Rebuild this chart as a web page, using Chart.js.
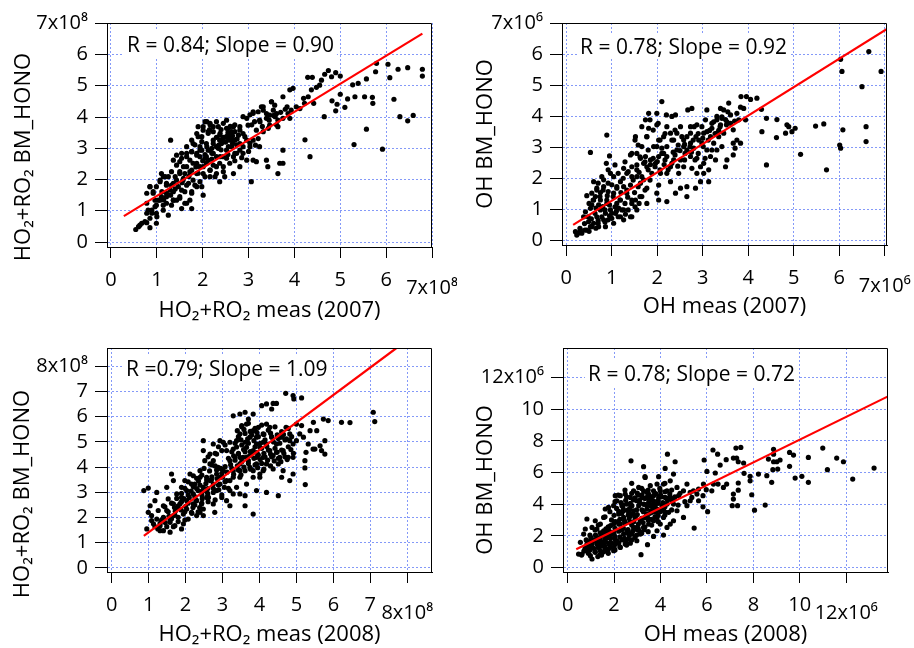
<!DOCTYPE html>
<html>
<head>
<meta charset="utf-8">
<script src="https://cdn.jsdelivr.net/npm/chart.js@4.4.1/dist/chart.umd.min.js"></script>
<style>
  html, body { margin: 0; padding: 0; background: #fff; }
  #wrap { position: relative; width: 914px; height: 648px; }
  canvas { position: absolute; }
</style>
</head>
<body>
<div id="wrap">
  <canvas id="p1" width="457" height="324" style="left:0;top:0"></canvas>
  <canvas id="p2" width="457" height="324" style="left:457px;top:0"></canvas>
  <canvas id="p3" width="457" height="324" style="left:0;top:324px"></canvas>
  <canvas id="p4" width="457" height="324" style="left:457px;top:324px"></canvas>
</div>
<script>
// HO2+RO2 2007 (units of 1e8)
const p1Points = [[6.79,5.53],[6.79,5.31],[6.47,5.58],[6.26,5.53],[6.04,5.69],[6.08,5.26],[6.17,4.57],[6.30,4.01],[6.47,3.88],[6.59,4.05],[5.92,2.97],[5.79,5.72],[5.77,5.45],[5.71,4.44],[5.70,4.63],[5.57,5.22],[5.53,4.65],[5.57,3.61],[5.39,5.08],[5.27,5.03],[5.32,4.65],[5.30,3.12],[5.16,4.58],[5.10,4.31],[5.00,4.73],[4.93,4.41],[4.90,4.20],[4.82,4.52],[4.65,4.01],[4.34,2.73],[4.23,3.27],[5.00,5.31],[4.90,5.42],[4.74,5.49],[4.81,5.29],[4.66,5.37],[4.59,5.18],[4.55,5.02],[4.48,4.95],[4.39,5.27],[4.29,5.27],[4.37,4.87],[4.30,4.65],[4.20,4.60],[4.22,4.44],[4.42,4.44],[3.97,4.92],[3.90,4.87],[3.75,4.65],[3.84,4.33],[3.93,4.22],[3.90,3.96],[3.75,3.96],[3.64,3.69],[3.75,2.94],[3.75,2.52],[3.64,2.19],[3.68,2.52],[3.50,4.49],[3.39,4.11],[3.54,4.22],[3.28,4.33],[3.32,4.22],[3.24,3.90],[3.13,3.85],[3.17,3.58],[3.21,3.31],[3.24,3.05],[3.10,2.62],[3.17,2.57],[3.39,2.62],[3.42,2.41],[3.06,1.93],[2.96,2.62],[2.88,4.01],[2.99,3.74],[2.81,3.69],[2.67,3.69],[2.70,3.53],[2.52,3.90],[2.56,3.64],[2.59,3.47],[2.52,3.37],[2.45,3.26],[2.59,3.26],[2.37,3.42],[2.41,3.15],[2.63,3.05],[2.52,2.94],[2.45,2.73],[2.34,3.00],[2.23,2.84],[2.12,2.94],[2.08,3.15],[2.05,3.85],[2.16,3.80],[2.23,3.69],[1.90,3.69],[1.87,3.47],[1.98,3.37],[1.79,3.15],[1.94,3.05],[1.76,2.89],[1.65,2.73],[1.54,2.84],[1.43,2.78],[1.36,2.62],[1.30,3.26],[1.50,2.57],[1.65,2.41],[1.79,2.52],[1.94,2.41],[2.08,2.52],[2.23,2.46],[2.37,2.52],[2.30,2.19],[2.16,2.09],[2.37,1.93],[2.48,2.09],[2.67,2.19],[2.81,2.41],[2.74,2.84],[2.88,2.84],[2.01,2.19],[1.94,1.93],[2.01,1.50],[1.87,1.77],[1.76,1.61],[1.72,1.34],[1.76,1.07],[1.61,1.24],[1.54,1.07],[1.50,1.45],[1.36,1.34],[1.32,1.18],[1.21,1.24],[1.14,1.02],[1.25,0.86],[1.07,1.34],[0.99,1.18],[0.99,0.92],[0.99,0.60],[0.89,1.02],[0.85,0.76],[0.78,0.92],[0.85,0.46],[0.78,0.62],[0.67,0.60],[0.60,0.49],[0.54,0.40],[0.78,1.56],[0.85,1.77],[0.92,1.61],[0.99,1.77],[1.07,1.93],[1.14,2.09],[1.10,2.19],[1.21,1.88],[1.25,2.09],[1.32,1.82],[1.36,1.61],[1.43,1.98],[1.50,2.19],[1.57,1.98],[1.61,2.19],[1.65,1.82],[1.54,1.66],[1.43,1.34],[1.21,1.56],[1.10,1.45],[0.96,1.34],[1.94,2.73],[2.08,2.73],[2.30,2.73],[2.16,2.30],[1.87,2.19],[1.79,1.98],[1.72,2.25],[2.59,2.52],[2.45,2.41],[2.67,2.73],[2.96,3.26],[3.10,3.26],[3.03,3.05],[2.81,3.15],[2.70,3.26],[2.59,3.42],[2.56,3.31],[2.63,3.37],[2.37,3.26],[2.23,3.15],[2.16,2.94],[2.12,2.62],[1.98,2.94],[1.87,2.84],[2.01,3.58],[2.12,3.53],[3.10,4.17],[3.46,4.06],[3.57,4.38],[4.04,4.33],[4.12,4.27],[3.86,4.11],[3.64,3.90],[3.61,4.11],[3.46,3.74],[3.32,3.53],[2.88,3.47],
  [3.32,4.33],[3.50,4.49],[3.21,4.17],[3.10,4.12],[3.03,4.07],[3.39,3.96],[3.58,4.01],[3.61,3.75],[3.25,3.85],[3.43,3.64],[3.07,3.75],[2.96,3.96],[2.38,3.48],[2.52,3.37],[2.63,3.53],[2.45,3.21],[2.67,3.26],[2.78,3.42],[2.56,3.05],[2.30,3.05],[2.23,3.26],[2.12,3.48],[2.01,3.69],[2.16,3.75],[2.09,3.85],[2.20,2.84],[2.38,2.73],[2.52,2.68],[2.70,2.84],[2.81,2.94],[2.88,3.05],[1.94,2.94],[1.83,3.11],[1.76,3.26],[1.90,3.37],[1.65,2.84],[1.72,2.62],[1.87,2.52],[2.01,2.41],[2.16,2.30],[2.30,2.41],[2.45,2.25],[2.27,2.09],[2.05,2.09],[1.90,2.20],[1.76,2.30],[1.58,2.41],[1.50,2.25],[1.40,2.09],[1.58,2.04],[1.69,1.88],[1.83,1.82],[1.98,1.77],[1.76,1.56],[1.61,1.61],[1.47,1.77],[1.36,1.88],[1.29,1.66],[1.21,1.45],[1.36,1.34],[1.50,1.40],[1.65,1.24],[1.14,1.18],[1.03,1.34],[0.96,1.13],[1.11,1.61],[1.21,1.82],[1.07,1.98],[1.18,2.09],[1.32,2.25],[1.43,2.46],[1.54,2.68],[1.65,3.05],[1.76,2.89],[1.87,2.78],[2.05,2.68],[2.09,3.05],[1.98,3.21],[2.23,3.53],[2.34,3.69],[2.52,3.64],[2.70,3.75],[2.81,3.58],[2.92,3.37],[3.03,3.16],[2.74,3.11],[0.89,0.92],[0.81,1.02],[0.78,1.24],[0.92,1.56],[0.85,1.77],[0.63,0.54],[0.74,0.65],[1.00,0.81],
  [2.40,3.60],[2.55,3.50],[2.65,3.40],[2.45,3.35],[2.30,3.35],[2.50,3.20],[2.65,3.15],[2.75,3.30],[2.35,3.10],[2.20,3.00],[2.05,2.80],[2.20,2.65],[2.00,2.60],[1.85,2.40],[1.70,2.10],[1.55,1.90],[1.40,1.70],[1.30,1.50],[1.15,1.35],[2.60,3.70],[2.45,3.80],[2.30,3.85],[2.15,3.60],[2.40,2.95],[2.55,2.80],[2.70,2.60],[2.85,2.70],[3.00,2.90],[3.15,3.10],[3.30,3.70],[3.45,3.90],[3.55,4.05],[3.70,4.15],[3.80,4.25]];
const p1Fit = [[0.28,0.83],[6.79,6.67]];

// OH 2007 (units of 1e6)
const p2Points = [[6.92,5.45],[6.65,6.09],[6.50,4.96],[6.59,3.67],[6.59,3.19],[6.08,3.57],[6.03,5.84],[6.06,5.45],[6.01,3.08],[6.03,2.98],[5.72,2.28],[5.66,3.76],[5.48,3.69],[5.15,2.78],[5.03,3.62],[4.96,3.51],[4.85,3.73],[4.89,3.67],[4.82,3.46],[4.62,3.32],[4.63,3.90],[4.40,3.94],[4.40,2.44],[4.30,3.51],[4.29,4.23],[4.19,4.59],[4.05,4.55],[3.96,4.64],[3.84,4.64],[3.90,4.26],[3.94,3.89],[3.83,4.30],[3.83,3.14],[3.75,3.24],[3.67,3.14],[3.71,2.98],[3.67,2.76],[3.61,4.05],[3.57,4.43],[3.46,4.21],[3.39,4.26],[3.42,3.94],[3.31,4.00],[3.24,3.83],[3.20,3.62],[3.39,3.73],[3.52,3.73],[3.46,3.46],[3.35,3.35],[3.24,3.14],[3.31,2.92],[3.17,2.71],[3.28,2.60],[3.50,2.38],[3.53,2.60],[3.13,2.28],[3.09,4.21],[3.06,3.89],[3.02,3.46],[2.98,3.14],[2.91,3.24],[2.87,3.73],[2.81,3.67],[2.76,4.26],[2.67,4.21],[2.73,3.46],[2.65,3.35],[2.58,3.24],[2.73,3.14],[2.65,2.92],[2.80,2.98],[2.73,2.71],[2.87,2.65],[2.95,2.38],[3.02,2.17],[2.95,1.90],[3.13,1.90],[2.84,1.69],[2.65,1.74],[2.65,1.42],[2.51,1.69],[2.58,2.38],[2.51,2.60],[2.43,2.92],[2.36,3.24],[2.29,3.46],[2.40,4.05],[2.32,4.00],[2.20,4.05],[2.21,3.67],[2.10,4.48],[1.99,4.10],[1.99,3.73],[2.14,3.35],[2.03,3.24],[2.10,2.98],[2.14,2.81],[2.03,2.71],[2.21,2.71],[2.29,2.38],[2.21,2.17],[2.29,1.90],[2.40,1.53],[2.21,1.26],[2.03,1.31],[1.99,1.53],[2.03,1.79],[1.88,2.17],[1.81,4.10],[1.74,3.89],[1.81,3.62],[1.77,3.35],[1.58,3.08],[1.55,2.81],[1.74,2.71],[1.70,2.49],[1.77,2.38],[1.85,2.60],[1.55,2.44],[1.44,2.38],[1.33,2.17],[1.26,2.33],[1.52,3.35],[1.44,2.06],[1.55,2.06],[1.63,1.85],[1.70,1.96],[1.77,1.69],[1.77,1.20],[1.66,1.42],[1.55,0.99],[1.44,1.20],[1.33,1.53],[1.41,1.79],[1.26,1.74],[1.19,1.90],[1.11,1.74],[1.04,2.06],[1.19,1.31],[1.11,1.20],[1.04,1.53],[1.26,0.99],[1.19,0.77],[1.08,0.88],[1.00,0.72],[0.97,0.99],[0.89,1.20],[0.86,0.88],[0.82,0.67],[0.75,0.99],[0.67,0.77],[0.60,0.56],[0.53,0.45],[0.45,0.34],[0.34,0.24],[0.23,0.18],[0.20,0.29],[0.31,0.34],[0.38,0.77],[0.42,0.93],[0.53,1.04],[0.60,1.31],[0.56,1.53],[0.64,1.42],[0.67,1.69],[0.60,1.90],[0.82,1.96],[0.82,1.74],[0.92,1.58],[0.97,2.17],[0.88,2.49],[0.95,2.73],[0.89,3.40],[0.53,2.84],[0.75,1.31],[0.71,1.15],[0.49,0.61],[0.71,0.45],[0.86,0.45],[1.04,0.56],[1.26,0.67],[1.41,0.77],[1.52,1.31],[1.92,3.03],[1.96,2.49],[2.07,2.17],[2.47,2.17],[2.43,3.46],[2.51,3.67],[2.58,3.03],[2.73,3.67],[3.17,3.35],[3.31,3.46],[3.61,3.78],[3.67,3.57],[3.79,3.89],[3.09,2.92],[2.87,2.17],[3.02,2.49],[3.42,3.03],[2.36,2.60],[1.41,2.76],[1.63,2.65],
  [0.26,0.24],[0.41,0.34],[0.56,0.45],[0.70,0.56],[0.48,0.77],[0.63,0.88],[0.78,0.77],[0.85,0.99],[0.92,0.67],[1.00,0.88],[1.07,1.09],[1.14,0.77],[1.22,0.99],[1.29,1.20],[1.18,1.31],[1.03,1.42],[0.89,1.31],[0.74,1.42],[0.59,1.31],[0.67,1.63],[0.56,1.15],[1.44,1.31],[1.36,0.99],[1.51,1.09],[1.44,0.77],[1.33,1.63],[1.11,1.69],[0.92,1.85],[0.81,1.63],[1.62,1.42],[1.73,1.63],[1.58,1.74],[1.47,1.95],[1.25,2.01],[1.14,2.17],[1.36,2.22],[1.55,2.28],[1.66,2.06],[1.84,1.95],[1.80,2.28],[1.95,2.38],[1.91,2.65],[1.73,2.54],[1.62,2.70],[1.80,2.92],[1.99,3.03],[2.10,2.81],[2.17,2.60],[2.06,2.28],[2.24,2.28],[2.32,2.49],[2.39,2.76],[2.21,3.03],[2.06,3.24],[2.17,3.45],[2.32,3.24],[2.46,3.08],[2.54,3.35],[2.39,3.56],[2.61,2.81],[2.72,3.03],[2.79,3.24],[2.90,3.45],[2.98,3.67],[3.09,3.51],[3.20,3.78],[3.31,3.89],[3.42,3.99],[3.53,3.83],[3.27,3.45],[3.38,3.67],[3.12,3.24],[3.01,3.03],[2.90,2.81],[2.83,2.60],[3.05,2.65],[3.20,2.92],[2.76,2.33],[1.66,3.03],[1.51,3.24],[1.77,3.35],[1.91,3.56],[1.66,3.67],[1.84,3.89],[2.02,3.78],[1.44,2.81],[1.29,2.54],[1.07,2.44],[0.92,2.28],[0.78,2.06],
  [0.30,0.40],[0.50,0.30],[0.65,0.40],[0.40,0.55],[0.55,0.70],[0.70,0.65],[0.85,0.60],[0.95,0.80],[1.10,0.95],[0.65,1.05],[0.80,1.10],[0.95,1.15],[1.15,1.05],[1.30,0.85],[1.35,1.40],[1.50,1.55],[1.60,1.20],[1.20,1.55],[0.90,1.45],[0.75,1.55],[0.50,1.20],[0.45,1.45],[0.70,1.85],[1.00,1.80],[1.60,2.20],[1.85,2.45],[2.00,2.55],[2.15,2.45],[2.35,2.85],[2.50,2.90],[2.60,3.10],[2.85,3.35],[3.00,3.30],[3.15,3.55],[3.35,3.55],[3.50,3.90],[3.70,3.85],[3.75,4.10],[3.55,4.15],[2.45,2.40],[2.60,2.60],[2.75,2.85]];
const p2Fit = [[0.15,0.51],[7.05,6.82]];

// HO2+RO2 2008 (units of 1e8)
const p3Points = [[7.08,6.18],[7.12,5.81],[6.45,5.77],[6.22,5.78],[5.86,5.85],[5.73,5.91],[5.77,5.05],[5.77,4.52],[5.68,4.66],[5.64,4.85],[5.55,5.45],[5.46,5.78],[5.50,4.72],[5.45,4.72],[5.32,4.92],[5.26,4.59],[5.23,4.26],[5.23,3.97],[5.24,3.31],[5.37,5.45],[5.19,5.19],[5.09,5.32],[5.14,5.65],[5.00,5.71],[4.91,4.92],[4.91,4.39],[4.91,3.73],[4.82,3.47],[4.78,4.39],[4.64,3.86],[4.60,3.60],[4.51,2.87],[4.72,5.58],[5.14,6.75],[4.91,6.84],[4.93,6.71],[4.71,6.93],[4.46,6.53],[4.37,6.53],[4.33,6.31],[4.19,6.51],[4.06,6.44],[3.83,6.11],[3.70,5.91],[3.61,6.18],[3.47,6.11],[3.29,6.04],[3.65,5.71],[3.52,5.65],[3.83,2.14],[3.92,3.07],[4.19,3.00],[4.37,3.93],[4.51,4.13],[4.46,4.59],[4.37,4.46],[4.19,4.13],[4.10,3.86],[4.01,3.60],[3.92,4.39],[3.83,4.66],[4.01,4.79],[4.19,4.92],[4.33,5.19],[4.10,5.32],[3.97,5.58],[3.83,5.45],[3.74,5.19],[3.61,4.99],[3.47,5.32],[3.38,5.05],[3.29,4.72],[3.43,4.52],[3.56,4.39],[3.70,4.26],[3.61,3.86],[3.47,3.60],[3.65,3.33],[3.61,2.87],[3.61,2.47],[3.38,3.20],[3.29,3.86],[3.20,4.26],[3.11,4.66],[3.02,4.99],[2.93,5.05],[2.75,4.92],[2.66,4.52],[2.48,5.05],[2.52,4.26],[2.75,4.26],[2.88,3.99],[3.02,3.86],[2.93,3.60],[3.11,3.47],[3.20,3.07],[3.11,2.67],[3.20,2.47],[2.98,2.80],[2.84,3.07],[2.75,3.33],[2.75,2.54],[2.79,2.21],[2.62,2.80],[2.48,3.20],[2.39,3.60],[2.39,3.86],[2.57,3.60],[2.57,2.80],[2.43,2.54],[2.39,2.21],[2.48,2.08],[2.30,2.67],[2.21,2.94],[2.16,3.33],[2.21,3.66],[2.12,3.73],[1.98,3.47],[1.89,3.20],[1.76,2.94],[1.62,3.73],[1.67,3.47],[1.49,3.20],[1.53,2.74],[1.67,2.54],[1.80,2.47],[2.03,2.67],[2.03,2.34],[2.16,2.21],[2.07,1.94],[1.94,1.75],[1.89,1.55],[1.71,1.68],[1.58,1.81],[1.40,2.01],[1.49,2.28],[1.40,2.47],[1.26,2.28],[1.31,1.68],[1.40,1.48],[1.58,1.42],[1.31,1.48],[1.22,1.94],[1.08,1.88],[0.99,2.21],[0.95,1.55],[1.13,1.75],[0.87,3.07],[0.99,3.17],[1.22,3.00],[1.04,2.47],[1.17,2.67],[1.08,2.08],[1.80,2.01],[1.94,2.14],[1.89,2.80],[2.03,3.07],[2.25,3.33],[2.34,3.07],[2.48,4.66],[2.66,4.13],[2.84,4.52],[2.98,4.66],[3.20,4.99],[3.34,4.39],[3.47,4.13],[3.74,3.99],[3.83,3.86],[3.92,4.13],[4.10,4.39],[4.28,4.66],[4.46,4.92],[4.60,5.19],[4.73,5.12],[4.82,5.32],[5.00,5.05],[4.19,5.71],[4.28,5.58],[3.92,5.19],[3.65,4.79],[3.47,3.86],[3.29,3.60],[3.20,3.47],[2.93,3.33],[3.29,2.94],[3.47,2.94],[3.83,3.60],[4.01,3.73],[4.55,4.39],[4.64,4.66],[3.92,4.92],[4.10,4.99],[3.74,4.46],[2.84,3.73],[2.66,3.47],[2.21,2.54],[2.48,2.34],[2.30,2.08],[1.67,2.08],
  [3.52,5.60],[3.70,5.74],[3.88,5.54],[4.06,5.67],[4.24,5.47],[4.42,5.60],[4.60,5.41],[4.78,5.54],[4.87,5.21],[4.69,5.08],[4.51,5.14],[4.33,5.21],[4.15,5.08],[3.97,5.21],[3.79,5.28],[3.61,5.34],[3.43,5.21],[3.34,4.95],[3.52,4.88],[3.70,4.95],[3.88,4.81],[4.06,4.75],[4.24,4.68],[4.42,4.75],[4.60,4.68],[4.78,4.81],[4.92,4.55],[4.69,4.41],[4.51,4.35],[4.33,4.41],[4.15,4.41],[3.97,4.48],[3.79,4.55],[3.61,4.61],[3.43,4.55],[3.25,4.61],[3.16,4.35],[3.34,4.28],[3.52,4.22],[3.70,4.15],[3.88,4.09],[4.06,4.15],[3.07,4.02],[3.25,3.95],[3.43,3.89],[2.98,3.76],[2.84,3.89],[2.71,4.09],[2.61,4.41],[2.80,4.55],[2.89,4.81],[3.07,4.88],[2.71,3.62],[2.57,3.49],[2.44,3.69],[2.30,3.56],[2.39,3.29],[2.21,3.22],[2.07,3.42],[1.98,3.16],[1.89,2.96],[2.07,2.90],[2.25,2.83],[2.44,2.90],[2.57,3.03],[2.75,3.16],[2.89,3.29],[3.07,3.42],[3.16,3.16],[2.98,2.90],[2.80,2.70],[2.61,2.63],[2.44,2.57],[2.25,2.50],[2.07,2.57],[1.89,2.63],[1.76,2.76],[1.62,2.57],[1.80,2.37],[1.98,2.23],[2.17,2.17],[2.34,2.23],[1.71,2.10],[1.53,2.23],[1.44,2.43],[1.58,1.90],[1.40,1.97],[1.80,1.84],[1.98,1.90],[1.49,1.64],[1.31,1.77],[1.17,1.64],[1.67,1.64],
  [3.40,5.45],[3.58,5.50],[3.75,5.42],[3.93,5.38],[4.12,5.30],[4.30,5.35],[4.48,5.28],[4.65,5.30],[4.82,5.05],[4.55,4.95],[4.38,5.00],[4.20,4.82],[4.02,4.95],[3.85,5.05],[3.68,5.12],[3.50,5.08],[3.38,4.80],[3.57,4.70],[3.75,4.62],[3.93,4.58],[4.12,4.55],[4.30,4.52],[4.48,4.60],[4.66,4.55],[4.85,4.70],[4.75,4.30],[4.58,4.22],[4.40,4.25],[4.22,4.28],[4.02,4.30],[3.85,4.35],[3.66,4.40],[3.48,4.38],[3.30,4.45],[3.22,4.10],[3.40,4.05],[3.58,4.00],[3.76,3.92],[3.95,3.98],[4.12,3.92],[4.30,4.05],[3.12,3.80],[3.30,3.72],[3.50,3.70],[2.95,3.95],[2.80,4.05],[2.65,3.85],[2.50,3.95],[2.35,3.45],[2.55,3.35],[2.70,3.50],[2.85,3.55],[3.00,3.60],[2.15,3.05],[2.30,3.15],[2.45,3.05],[2.60,3.15],[2.75,3.00],[2.90,3.10],[3.05,3.20],[1.95,2.75],[2.10,2.80],[2.28,2.70],[2.45,2.75],[2.60,2.95],[1.70,2.40],[1.85,2.55],[2.00,2.45],[2.20,2.40],[2.38,2.40],[1.55,2.05],[1.72,2.25],[1.88,2.30],[1.45,1.80],[1.62,1.95],[1.25,1.55],[1.35,1.90]];
const p3Fit = [[0.87,1.27],[7.70,8.72]];

// OH 2008 (units of 1e6)
const p4Points = [[13.20,6.28],[12.28,5.59],[11.88,6.68],[11.59,6.91],[11.19,6.18],[10.99,7.54],[10.37,6.95],[10.37,5.38],[10.09,5.76],[9.80,5.65],[9.73,7.10],[9.56,7.27],[9.56,6.39],[9.15,6.79],[9.01,6.68],[9.05,6.22],[8.87,7.46],[8.87,7.16],[8.87,6.68],[8.84,6.18],[8.79,5.38],[8.65,6.85],[8.58,5.80],[8.51,3.95],[8.22,5.90],[7.86,5.76],[7.86,5.48],[7.93,4.60],[8.05,3.63],[7.58,6.60],[7.60,5.95],[7.46,7.58],[7.25,7.54],[7.28,6.91],[7.14,6.91],[7.35,6.68],[7.35,5.34],[7.35,4.89],[7.14,4.64],[7.14,4.33],[7.09,3.91],[7.32,3.91],[6.83,6.81],[6.57,6.47],[6.46,7.16],[6.26,7.42],[6.36,5.97],[6.48,5.27],[6.28,5.27],[6.71,5.06],[5.88,6.79],[6.00,6.07],[5.97,4.92],[5.83,4.54],[6.03,3.53],[5.83,3.84],[5.45,2.50],[4.30,7.16],[4.63,6.68],[4.20,6.26],[3.92,5.74],[3.27,6.37],[3.34,5.69],[2.73,6.74],[3.16,0.82],[3.44,1.45],[4.13,2.06],[3.70,1.97],[3.85,2.33],[4.71,5.06],[4.56,5.90],[4.42,5.48],[4.78,4.54],[5.14,5.27],[5.28,4.75],[5.42,4.85],[5.57,4.64],[5.64,4.22],[5.28,4.22],[5.14,3.91],[4.99,3.17],[4.71,3.59],[4.56,2.96],[4.42,2.75],[4.28,2.54],[4.35,3.49],[4.13,3.17],[3.99,2.75],[3.99,4.85],[3.85,5.27],[3.70,4.85],[3.56,5.17],[3.49,4.64],[3.27,4.85],[3.06,5.06],[2.84,4.85],[2.70,4.43],[2.48,4.64],[2.27,4.54],[2.05,4.54],[2.12,4.22],[1.98,3.91],[1.76,3.80],[1.62,3.70],[1.55,3.17],[1.41,2.75],[1.19,2.96],[1.26,2.44],[1.05,2.54],[0.83,3.07],[0.76,2.44],[0.69,2.12],[0.55,1.60],[0.47,0.86],[0.62,0.86],[0.83,1.07],[0.98,0.76],[1.05,0.55],[0.90,1.39],[1.12,1.70],[1.26,1.91],[1.33,1.28],[1.55,1.49],[1.19,0.97],[1.41,0.86],[1.69,1.07],[1.84,1.28],[1.98,1.07],[1.76,1.91],[1.98,2.23],[2.12,1.70],[2.27,1.28],[2.48,1.49],[2.41,2.12],[2.63,1.81],[2.77,2.12],[2.84,2.54],[2.70,2.86],[2.48,2.86],[2.27,2.75],[2.20,3.38],[2.41,3.59],[2.63,3.49],[2.84,3.59],[3.06,3.91],[3.27,4.01],[3.49,4.12],[3.70,4.22],[3.92,4.43],[4.20,4.43],[4.42,4.43],[4.56,4.01],[4.06,3.91],[3.85,3.70],[3.63,3.49],[3.34,3.17],[3.13,2.96],[2.98,2.54],[3.13,2.12],[2.98,1.70],[3.27,2.54],[3.49,2.75],[3.70,2.96],[3.85,3.17],[4.13,3.70],[4.99,4.85],[5.35,4.43],[5.64,4.96],[5.85,5.27],[6.21,4.85],[6.85,5.27],[4.13,5.27],[4.28,4.85],[3.20,4.43],[2.98,4.22],[2.77,3.91],[2.55,4.01],[2.34,3.91],[2.20,2.75],[1.98,2.75],[1.76,2.54],[1.55,2.33],[1.41,1.91],[1.62,1.81],[1.84,1.60],[2.05,1.49],[1.91,2.12],[1.69,2.23],[1.48,1.39],[1.26,1.49],[1.05,1.28],[0.98,1.70],[0.83,1.49],[2.55,2.33],[2.70,3.28],[2.91,3.17],[2.41,3.17],[3.41,3.70],[3.56,3.91],[3.77,3.91],[4.28,4.01],[3.41,4.43],[3.70,4.54],
  [0.60,0.80],[0.89,0.91],[1.18,1.01],[0.75,1.22],[1.03,1.32],[1.32,1.43],[1.61,1.22],[1.46,0.80],[1.75,0.91],[2.04,1.12],[1.89,1.54],[1.61,1.75],[1.32,1.85],[1.10,1.75],[1.46,2.17],[1.75,2.06],[2.04,1.95],[2.33,1.75],[2.25,1.32],[2.54,1.43],[2.76,1.75],[2.61,2.17],[2.33,2.38],[2.04,2.48],[1.75,2.58],[1.89,3.01],[2.18,2.90],[2.47,2.80],[2.76,2.69],[3.04,2.48],[2.97,2.06],[3.19,2.17],[3.33,2.58],[3.47,3.01],[3.19,3.11],[2.90,3.21],[2.61,3.32],[2.33,3.43],[2.11,3.74],[2.39,3.95],[2.68,3.74],[2.97,3.64],[3.26,3.53],[3.54,3.43],[3.76,3.21],[3.69,3.74],[3.40,3.95],[3.11,4.06],[2.83,4.27],[2.54,4.47],[2.76,4.69],[3.04,4.58],[3.33,4.37],[3.62,4.27],[3.90,4.06],[4.05,4.47],[3.76,4.69],[3.47,4.90],[3.19,5.00],[3.97,5.00],[4.19,4.79],[4.33,4.37],[4.48,4.90],[4.19,5.32],[4.62,4.47],[4.84,4.69],[4.19,3.84],[4.48,3.64],[4.19,3.32],[3.90,2.90],[3.62,2.69],[3.47,2.27],[4.76,3.95],[5.05,4.16],[3.33,5.74],[2.76,5.32],[2.47,4.90],[2.18,4.58],[2.04,4.16],[1.82,3.53],[1.61,3.21],[1.32,2.69],[1.18,2.38],[0.96,2.06],
  [0.70,1.05],[0.95,1.10],[1.15,1.20],[1.40,1.10],[1.60,1.35],[1.80,1.45],[2.00,1.30],[2.20,1.55],[0.85,1.25],[1.05,1.50],[1.25,1.65],[1.45,1.65],[1.65,1.60],[1.85,1.85],[2.05,1.75],[2.25,1.95],[2.45,1.85],[2.65,2.05],[1.20,2.05],[1.40,2.20],[1.60,2.05],[1.80,2.30],[2.00,2.10],[2.20,2.30],[2.40,2.50],[2.60,2.40],[2.80,2.30],[3.00,2.40],[1.65,2.45],[1.85,2.65],[2.05,2.90],[2.25,3.05],[2.45,2.95],[2.65,3.10],[2.85,2.90],[3.05,2.75],[3.25,2.85],[3.45,3.15],[2.00,3.30],[2.20,3.55],[2.40,3.70],[2.60,3.65],[2.80,3.40],[3.00,3.35],[3.20,3.65],[3.40,3.40],[3.60,3.60],[3.80,3.50],[4.00,3.55],[2.30,4.10],[2.50,4.25],[2.70,4.05],[2.90,4.40],[3.10,4.25],[3.30,4.00],[3.50,4.35],[3.70,4.05],[3.90,4.25],[4.10,4.10],[4.30,4.25],[4.50,4.20],[3.00,4.70],[3.20,4.60],[3.40,4.75],[3.60,4.45],[3.80,4.65],[4.00,4.60],[4.40,4.65],[4.60,4.40],[1.00,1.90],[0.80,1.75],[1.30,0.70],[1.55,1.00],[1.75,1.15],[2.50,1.65],[2.70,1.55],[2.90,1.90],[3.10,2.30],[3.30,2.40],[3.60,3.05],[3.90,3.30],[4.20,3.50]];
const p4Fit = [[0.37,1.16],[13.8,10.8]];

// ticks
const ticks0to7 = [0, 1, 2, 3, 4, 5, 6, 7];
const ticks0to8 = [0, 1, 2, 3, 4, 5, 6, 7, 8];
const ticks0to12 = [0, 2, 4, 6, 8, 10, 12];
const labels7e8 = ["0", "1", "2", "3", "4", "5", "6", "7x10\u2078"];
const labels7e6 = ["0", "1", "2", "3", "4", "5", "6", "7x10\u2076"];
const labels8e8 = ["0", "1", "2", "3", "4", "5", "6", "7", "8x10\u2078"];
const labels12e6 = ["0", "2", "4", "6", "8", "10", "12x10\u2076"];

const FONT = "'Open Sans', 'DejaVu Sans', sans-serif";
const GRID = "rgba(80, 110, 245, 0.7)";
const W = 457, H = 324;

const framePlugin = {
  id: "frame",
  afterDraw(chart) {
    const { ctx, chartArea: a } = chart;
    ctx.save();
    ctx.strokeStyle = "#000";
    ctx.lineWidth = 1;
    ctx.beginPath();
    ctx.moveTo(a.left, a.top + 0.5);
    ctx.lineTo(a.right - 0.5, a.top + 0.5);
    ctx.lineTo(a.right - 0.5, a.bottom);
    ctx.stroke();
    ctx.restore();
  }
};

const notePlugin = {
  id: "note",
  beforeDatasetsDraw(chart, args, o) {
    const { ctx } = chart;
    ctx.save();
    ctx.font = `${o.size}px ${FONT}`;
    const w = ctx.measureText(o.text).width;
    ctx.fillStyle = "#fff";
    ctx.fillRect(o.x - 3, o.y - o.size, w + 6, o.size + 5);
    ctx.fillStyle = "#000";
    ctx.textBaseline = "alphabetic";
    ctx.fillText(o.text, o.x, o.y);
    ctx.restore();
  }
};

const yTitlePlugin = {
  id: "yTitle",
  afterDraw(chart, args, o) {
    const { ctx } = chart;
    ctx.save();
    ctx.translate(o.x, o.y);
    ctx.rotate(-Math.PI / 2);
    ctx.font = `${o.size}px ${FONT}`;
    ctx.fillStyle = "#000";
    ctx.textAlign = "center";
    ctx.textBaseline = "middle";
    ctx.fillText(o.text, 0, 0);
    ctx.restore();
  }
};

function panel(id, o) {
  const lastX = o.xTicks.length - 1;
  new Chart(document.getElementById(id), {
    type: "scatter",
    data: {
      datasets: [
        {
          data: o.fit.map(([x, y]) => ({ x, y })),
          showLine: true,
          borderColor: "#ff0000",
          borderWidth: 2.2,
          pointRadius: 0,
          order: 0
        },
        {
          data: o.points.map(([x, y]) => ({ x, y })),
          backgroundColor: "#000",
          borderWidth: 0,
          pointRadius: 2.6,
          order: 1
        }
      ]
    },
    options: {
      responsive: false,
      animation: false,
      devicePixelRatio: 1,
      layout: { padding: { left: 0, top: o.box.top, right: W - o.box.right, bottom: 0 } },
      plugins: {
        legend: { display: false },
        tooltip: { enabled: false },
        note: { text: o.note, x: o.noteX, y: o.noteY, size: 21 },
        yTitle: { text: o.yTitle, x: o.yTitleX, y: o.yTitleY, size: 22 }
      },
      scales: {
        x: {
          type: "linear",
          bounds: "data",
          min: o.xMin,
          max: o.xMax,
          afterBuildTicks: (s) => { s.ticks = o.xTicks.map((v) => ({ value: v })) },
          afterFit: (s) => { s.height = H - o.box.bottom; s.paddingLeft = 0; s.paddingRight = 0 },
          ticks: {
            autoSkip: false,
            maxRotation: 0,
            color: "#000",
            padding: 10,
            font: (c) => ({ family: FONT, size: 20, lineHeight: c.index === lastX ? 2.0 : 1.2 }),
            callback: (v, i) => o.xLabels[i]
          },
          grid: { color: GRID, lineWidth: 1, tickColor: "#000", tickLength: 11, tickWidth: 1 },
          border: { display: true, color: "#000", width: 1, dash: [2, 2] },
          title: { display: true, text: o.xTitle, color: "#000", font: { family: FONT, size: 22 }, padding: { top: 0, bottom: o.xTitlePad } }
        },
        y: {
          type: "linear",
          bounds: "data",
          min: o.yMin,
          max: o.yMax,
          afterBuildTicks: (s) => { s.ticks = o.yTicks.map((v) => ({ value: v })) },
          afterFit: (s) => { s.width = o.box.left; s.paddingTop = 0; s.paddingBottom = 0 },
          ticks: {
            autoSkip: false,
            color: "#000",
            padding: 7,
            font: { family: FONT, size: 20 },
            callback: (v, i) => o.yLabels[i]
          },
          grid: { color: GRID, lineWidth: 1, tickColor: "#000", tickLength: 12, tickWidth: 1 },
          border: { display: true, color: "#000", width: 1, dash: [2, 2] }
        }
      }
    },
    plugins: [framePlugin, notePlugin, yTitlePlugin]
  });
}

panel("p1", {
  points: p1Points, fit: p1Fit,
  box: { left: 107, right: 432, top: 23, bottom: 247 },
  xMin: -0.087, xMax: 7.0, yMin: -0.16, yMax: 7.01,
  xTicks: ticks0to7, xLabels: labels7e8, yTicks: ticks0to7, yLabels: labels7e8,
  xTitle: "HO\u2082+RO\u2082 meas (2007)", xTitlePad: 0,
  yTitle: "HO\u2082+RO\u2082 BM_HONO", yTitleX: 24, yTitleY: 157,
  note: "R = 0.84; Slope = 0.90", noteX: 127, noteY: 52
});

panel("p2", {
  points: p2Points, fit: p2Fit,
  box: { left: 105, right: 430, top: 23, bottom: 245 },
  xMin: -0.095, xMax: 7.05, yMin: -0.14, yMax: 7.01,
  xTicks: ticks0to7, xLabels: labels7e6, yTicks: ticks0to7, yLabels: labels7e6,
  xTitle: "OH meas (2007)", xTitlePad: 4,
  yTitle: "OH BM_HONO", yTitleX: 29, yTitleY: 134,
  note: "R = 0.78; Slope = 0.92", noteX: 123, noteY: 54
});

panel("p3", {
  points: p3Points, fit: p3Fit,
  box: { left: 107, right: 432, top: 24, bottom: 248 },
  xMin: -0.127, xMax: 8.67, yMin: -0.16, yMax: 8.73,
  xTicks: ticks0to8, xLabels: labels8e8, yTicks: ticks0to8, yLabels: labels8e8,
  xTitle: "HO\u2082+RO\u2082 meas (2008)", xTitlePad: 0,
  yTitle: "HO\u2082+RO\u2082 BM_HONO", yTitleX: 23, yTitleY: 170,
  note: "R =0.79; Slope = 1.09", noteX: 126, noteY: 52
});

panel("p4", {
  points: p4Points, fit: p4Fit,
  box: { left: 106, right: 431, top: 24, bottom: 248 },
  xMin: -0.2, xMax: 13.8, yMin: -0.27, yMax: 13.85,
  xTicks: ticks0to12, xLabels: labels12e6, yTicks: ticks0to12, yLabels: labels12e6,
  xTitle: "OH meas (2008)", xTitlePad: 0,
  yTitle: "OH BM_HONO", yTitleX: 29, yTitleY: 156,
  note: "R = 0.78; Slope = 0.72", noteX: 131, noteY: 57
});
</script>
</body>
</html>
